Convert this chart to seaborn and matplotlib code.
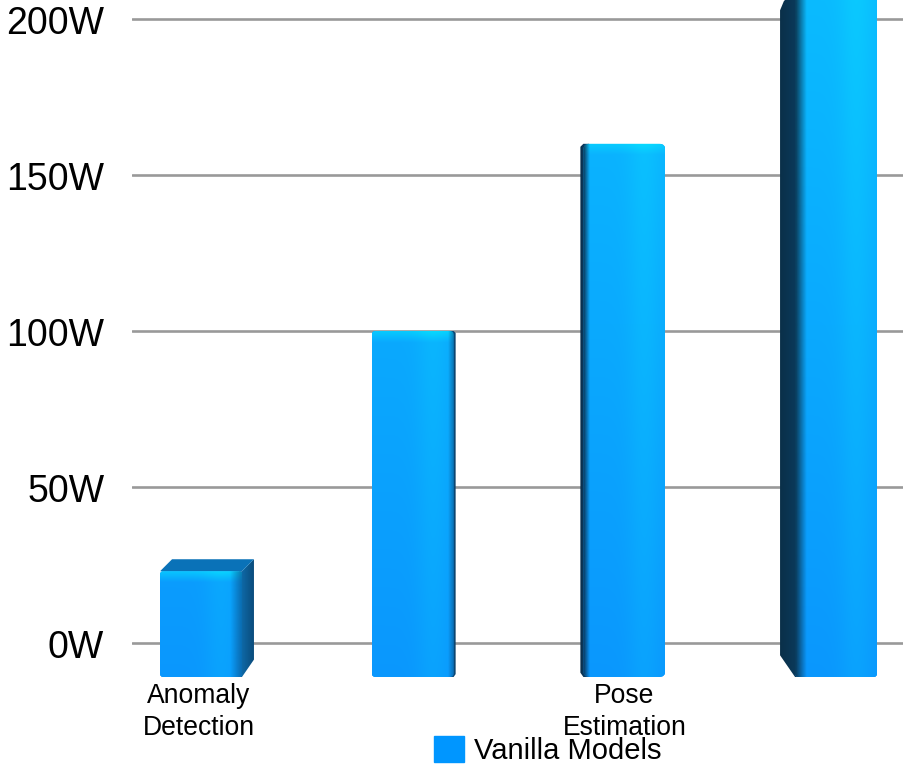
import numpy as np
import matplotlib
matplotlib.use("Agg")
import matplotlib.pyplot as plt
from matplotlib.patches import FancyBboxPatch, Polygon, Patch
from matplotlib.colors import to_rgb
from matplotlib.transforms import ScaledTranslation
import seaborn as sns

# Data
categories = ["Anomaly\nDetection", " ", "Pose\nEstimation", "  "]
power_w = [23, 100, 160, 210]
series_name = "Vanilla Models"
y_ticks = [0, 50, 100, 150, 200]
y_tick_labels = ["0W", "50W", "100W", "150W", "200W"]

# Style (perspective of each pseudo-3D column: pixel depth, negative = left side)
side_depth_px = [12, 2, -3, -15]
corner_px = [3, 4, 6, 3]
side_inner = ["#0f6fb0", "#0a5c96", "#0a4f80", "#0a3a5c"]
side_outer = ["#0a4c7c", "#0a3f68", "#0a2c48", "#0b3049"]

W, H = 906, 765
L, R, T, B = 132, 903, 0, 677
Y0_PX, PX_PER_W = 643, 3.12
X0_PX, PX_PER_CAT = 201, 211.67
FONT = "Liberation Sans"

sns.set_style("white")
plt.rcParams["font.family"] = [FONT, "DejaVu Sans"]
plt.rcParams["text.color"] = "black"
fig = plt.figure(figsize=(W / 100, H / 100), dpi=100)
ax = fig.add_axes([L / W, 1 - B / H, (R - L) / W, (B - T) / H])
fig.patch.set_facecolor("white")

sns.barplot(x=categories, y=power_w, color="#0a96ff", width=0.387, saturation=1,
            ax=ax, zorder=3, edgecolor="none")

ymin, ymax = (Y0_PX - B) / PX_PER_W, (Y0_PX - T) / PX_PER_W
xmin, xmax = (L - X0_PX) / PX_PER_CAT, (R - X0_PX) / PX_PER_CAT
ax.set_xlim(xmin, xmax)
ax.set_ylim(ymin, ymax)
ax.set_yticks(y_ticks, y_tick_labels)
ax.tick_params(axis="y", length=0, pad=20, labelsize=27, labelcolor="black")
ax.tick_params(axis="x", length=0, pad=4, labelsize=19.1, labelcolor="black")
for lbl in ax.get_xticklabels():
    lbl.set_linespacing(1.3)
for lbl in ax.get_yticklabels():
    lbl.set_transform(lbl.get_transform() + ScaledTranslation(0, -1 / 100, fig.dpi_scale_trans))
first = ax.get_xticklabels()[0]
first.set_transform(first.get_transform() + ScaledTranslation(-2 / 100, 0, fig.dpi_scale_trans))
ax.set_axisbelow(True)
ax.grid(axis="y", color="#999999", lw=1.9, zorder=1)
ax.grid(axis="x", visible=False)
sns.despine(ax=ax, left=True, bottom=True, top=True, right=True)
ax.set_xlabel("")
ax.set_ylabel("")


def lerp(a, b, t):
    a, b = np.array(to_rgb(a)), np.array(to_rgb(b))
    t = np.asarray(t)[..., None]
    return a + (b - a) * t


def front_image(ytop, nx=120, ny=400):
    """Vertical blue-to-cyan ramp on a common scale, with a band of light across."""
    vals = np.linspace(ymin, ytop, ny)
    t = np.clip((vals - ymin) / (215 - ymin), 0, 1)
    col = lerp("#0a9cfd", "#0bc2ff", t)
    hi = np.clip(1 - (ytop - vals) / 3.5, 0, 1)
    col = col + (np.array(to_rgb("#08d8ff")) - col) * hi[..., None] * 0.8
    col = np.repeat(col[:, None, :], nx, axis=1)
    u = np.linspace(0, 1, nx)
    gain = 0.97 + 0.07 * np.exp(-((u - 0.75) / 0.2) ** 2)
    col = col.copy()
    col[..., 1] = col[..., 1] * gain
    return np.clip(col, 0, 1)


for i, bar in enumerate(ax.patches):
    top = bar.get_height()
    x0 = bar.get_x()
    w = bar.get_width()
    x1 = x0 + w
    bar.set_y(ymin)
    bar.set_height(top - ymin)
    dx = side_depth_px[i] / PX_PER_CAT
    depth_w = abs(side_depth_px[i]) / PX_PER_W
    r = corner_px[i] / PX_PER_CAT
    asp = PX_PER_CAT / PX_PER_W

    # side face, behind the front face; its inner edge runs under the front face
    edge = x1 if dx > 0 else x0
    inner = edge - np.sign(dx) * r
    rise = depth_w if i == 0 else -depth_w
    low = ymin + depth_w * 1.45
    side_pts = [(inner, ymin), (edge, ymin), (edge + dx, low), (edge + dx, top + rise),
                (edge, top), (inner, top)]
    if i == 3:
        side_pts = [(inner, ymin), (edge, ymin), (edge + dx, low), (edge + dx, top - 1.5 * depth_w),
                    (edge + dx * 0.75, top - 0.9 * depth_w), (edge + dx * 0.4, top - 0.5 * depth_w),
                    (edge, top), (inner, top)]
    side = Polygon(side_pts, closed=True, facecolor="none", edgecolor="none",
                   transform=ax.transData)
    ax.add_patch(side)
    ramp = np.linspace(0, 1, 40)
    if dx < 0:
        ramp = ramp[::-1]
    side_img = lerp(side_inner[i], side_outer[i], ramp)[None, :, :]
    left_e, right_e = min(inner, edge + dx), max(inner, edge + dx)
    im = ax.imshow(side_img, extent=(left_e, right_e, ymin, top + abs(rise)), aspect="auto",
                   origin="lower", zorder=3.1, interpolation="bilinear")
    im.set_clip_path(side)

    # roof of the shortest column, seen from above
    if i == 0:
        roof = Polygon([(x0, top), (x1, top), (x1 + dx, top + depth_w),
                        (x0 + dx, top + depth_w)], closed=True,
                       facecolor="#0a72b8", edgecolor="none", zorder=3.2)
        ax.add_patch(roof)

    # front face with gradient, clipped to a rounded rectangle
    clip = FancyBboxPatch((x0, ymin), w, top - ymin,
                          boxstyle=f"round,pad=0,rounding_size={r}",
                          mutation_aspect=asp, facecolor="none", edgecolor="none",
                          transform=ax.transData)
    ax.add_patch(clip)
    bar.set_clip_path(clip)
    im = ax.imshow(front_image(top), extent=(x0, x1, ymin, top), aspect="auto",
                   origin="lower", zorder=3.3, interpolation="bilinear")
    im.set_clip_path(clip)

    # soft shaded strip where the front meets the side
    n = 30
    strip = np.zeros((1, n, 4))
    strip[..., :3] = to_rgb(side_outer[i])
    sw = (min(abs(side_depth_px[i]), 8) + 4) / PX_PER_CAT
    if dx > 0:
        strip[..., 3] = np.linspace(0, 0.6, n)
        ext = (x1 - sw, x1, ymin, top)
    else:
        strip[..., 3] = np.linspace(0.95, 0, n)
        ext = (x0, x0 + sw, ymin, top)
    im = ax.imshow(strip, extent=ext, aspect="auto", origin="lower", zorder=3.4,
                   interpolation="bilinear")
    im.set_clip_path(clip)

ax.set_xlim(xmin, xmax)
ax.set_ylim(ymin, ymax)

fig.legend(handles=[Patch(color="#0096ff", label=series_name)],
           loc="lower left", bbox_to_anchor=(434 / W, 0), bbox_transform=fig.transFigure,
           frameon=False, fontsize=21, borderpad=0, borderaxespad=0, labelcolor="black",
           handlelength=1.03, handleheight=1.0, handletextpad=0.33)

fig.savefig("out.png", dpi=100, facecolor="white")
